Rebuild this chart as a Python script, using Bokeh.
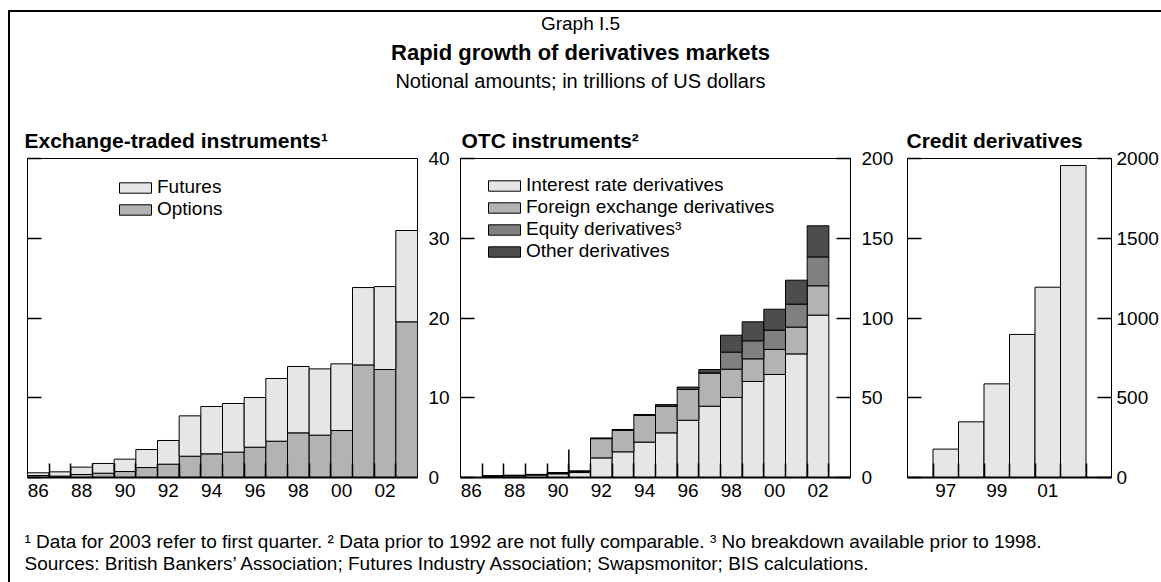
from bokeh.plotting import figure
from bokeh.models import (Range1d, LinearAxis, FixedTicker, Legend, LegendItem,
                          Label, Spacer, ColumnDataSource)
from bokeh.layouts import column, row
from bokeh.embed import file_html
from bokeh.resources import INLINE

FONT = "Liberation Sans"
TICK_FS = "19px"
C_LIGHT = "#e6e6e6"
C_MID = "#b3b3b3"
C_EQ = "#808080"
C_DARK = "#4d4d4d"

# ---------------- data ----------------
header_texts = ["Graph I.5", "Rapid growth of derivatives markets",
                "Notional amounts; in trillions of US dollars"]
footer_texts = ["\u00b9 Data for 2003 refer to first quarter.  \u00b2 Data prior to 1992 are not fully comparable.  "
                "\u00b3 No breakdown available prior to 1998.",
                "Sources: British Bankers\u2019 Association; Futures Industry Association; Swapsmonitor; BIS calculations."]
panel_titles = ["Exchange-traded instruments\u00b9", "OTC instruments\u00b2", "Credit derivatives"]

et_years = list(range(1986, 2004))
et_options = [0.25, 0.17, 0.38, 0.54, 0.75, 1.25, 1.67, 2.67, 2.97, 3.18,
              3.80, 4.55, 5.60, 5.31, 5.89, 14.12, 13.54, 19.52]
et_futures = [0.34, 0.54, 0.92, 1.22, 1.55, 2.26, 2.97, 5.06, 5.93, 6.10,
              6.23, 7.86, 8.32, 8.31, 8.36, 9.70, 10.40, 11.45]
et_label_years = [1986, 1988, 1990, 1992, 1994, 1996, 1998, 2000, 2002]
et_label_text = ["86", "88", "90", "92", "94", "96", "98", "00", "02"]
et_yticks = [0, 10, 20, 30, 40]

otc_years = list(range(1986, 2003))
otc_interest = [0.0, 0.7, 1.0, 1.5, 2.3, 3.1, 12.3, 16.1, 22.2, 28.0,
                35.9, 44.7, 50.2, 60.2, 64.6, 77.5, 101.8]
otc_fx = [0.0, 0.2, 0.3, 0.4, 0.6, 0.8, 12.1, 13.6, 16.7, 16.7,
          19.3, 20.9, 17.7, 14.2, 15.7, 16.8, 18.4]
otc_equity = [0.0, 0.0, 0.0, 0.0, 0.0, 0.0, 0.0, 0.0, 0.0, 0.0,
              0.0, 0.0, 10.7, 11.3, 12.1, 14.4, 18.1]
otc_other = [0.0, 0.0, 0.0, 0.0, 0.0, 0.0, 0.4, 0.4, 0.6, 1.0,
             1.5, 2.1, 10.6, 11.9, 13.1, 15.0, 19.5]
otc_label_years = et_label_years
otc_label_text = et_label_text
otc_yticks = [0, 50, 100, 150, 200]
otc_break_year = [1990.5]
otc_break_top = [17.5]

credit_years = [1997, 1998, 1999, 2000, 2001, 2002]
credit_values = [178, 349, 587, 897, 1193, 1956]
credit_label_years = [1997, 1999, 2001]
credit_label_text = ["97", "99", "01"]
credit_yticks = [0, 500, 1000, 1500, 2000]


# ---------------- helpers ----------------
def text_fig(w, h):
    f = figure(width=w, height=h, x_range=Range1d(0, w), y_range=Range1d(h, 0),
               output_backend="svg", toolbar_location=None, min_border=0,
               x_axis_type=None, y_axis_type=None)
    f.grid.visible = False
    f.outline_line_color = None
    f.background_fill_color = "white"
    f.border_fill_color = "white"
    return f


PANEL_H = 387
FRAME_TOP = 40


def panel(width, mb_left, mb_right, x_lo, x_hi, y_hi, yticks, label_years,
          label_text, title, title_offset, y_standoff, right_tick_in):
    p = figure(width=width, height=PANEL_H, x_range=Range1d(x_lo, x_hi),
               y_range=Range1d(0, y_hi), output_backend="svg",
               toolbar_location=None, y_axis_location="right",
               min_border_left=mb_left, min_border_right=mb_right,
               min_border_top=FRAME_TOP, min_border_bottom=28)
    p.grid.visible = False
    p.outline_line_color = "black"
    p.outline_line_width = 1
    p.background_fill_color = "white"
    p.border_fill_color = "white"

    p.title.text = title
    p.title.align = "left"
    p.title.offset = title_offset
    p.title.text_font = FONT
    p.title.text_font_size = "21px"
    p.title.text_font_style = "bold"
    p.title.text_color = "black"
    p.title.standoff = 14

    boundaries = [x + 0.5 for x in range(int(x_lo + 0.5), int(x_hi - 0.5))]

    xa = p.xaxis[0]
    xa.ticker = FixedTicker(ticks=label_years, minor_ticks=boundaries)
    xa.major_label_overrides = {y: t for y, t in zip(label_years, label_text)}
    xa.major_tick_in = 0
    xa.major_tick_out = 0
    xa.minor_tick_in = 14
    xa.minor_tick_out = 0
    xa.minor_tick_line_color = "black"
    xa.minor_tick_line_width = 1.5
    xa.axis_line_color = "black"
    xa.axis_line_width = 2
    xa.major_label_text_font = FONT
    xa.major_label_text_font_size = TICK_FS
    xa.major_label_text_color = "black"
    xa.major_label_standoff = 6

    ya = p.yaxis[0]
    ya.ticker = FixedTicker(ticks=yticks, minor_ticks=[])
    ya.major_tick_in = right_tick_in
    ya.major_tick_out = 0
    ya.major_tick_line_width = 1.5
    ya.minor_tick_in = 0
    ya.minor_tick_out = 0
    ya.axis_line_color = None
    ya.major_label_text_font = FONT
    ya.major_label_text_font_size = TICK_FS
    ya.major_label_text_color = "black"
    ya.major_label_standoff = y_standoff

    la = LinearAxis(ticker=FixedTicker(ticks=yticks, minor_ticks=[]))
    la.major_tick_in = 14
    la.major_tick_out = 0
    la.major_tick_line_width = 1.5
    la.minor_tick_in = 0
    la.minor_tick_out = 0
    la.axis_line_color = None
    la.major_label_text_color = None
    la.major_label_standoff = 0
    p.add_layout(la, "left")
    return p


def make_legend(items, x, y):
    leg = Legend(items=items, location=(x, y), orientation="vertical",
                 glyph_width=40, glyph_height=13, label_height=21,
                 label_standoff=2, spacing=0, padding=0, margin=0,
                 border_line_color=None, background_fill_alpha=0,
                 label_text_font=FONT, label_text_font_size="19px",
                 label_text_color="black")
    return leg


# ---------------- header ----------------
W = 1151
HEADER_H = 106
header = text_fig(W, HEADER_H)
hdr_pos = [(570, 11, "normal", "19px"), (570, 40, "bold", "22px"), (570, 68, "normal", "20px")]
for (x, y, st, fs), t in zip(hdr_pos, header_texts):
    header.add_layout(Label(x=x, y=y, text=t, text_align="center", text_baseline="middle",
                            text_font=FONT, text_font_size=fs, text_font_style=st,
                            text_color="black"))

# ---------------- panel 1: exchange-traded ----------------
p1 = panel(442, 17, 35, 1985.5, 2003.5, 40, et_yticks, et_label_years, et_label_text,
           panel_titles[0], -3, 11, 0)
src1 = ColumnDataSource(dict(year=et_years, options=et_options, futures=et_futures))
r1 = p1.vbar_stack(["options", "futures"], x="year", width=1, source=src1,
                   fill_color=[C_MID, C_LIGHT], line_color="black", line_width=1)
p1.add_layout(make_legend([LegendItem(label="Futures", renderers=[r1[1]]),
                           LegendItem(label="Options", renderers=[r1[0]])], 88, 319 - 20 - 42))

# ---------------- panel 2: OTC ----------------
p2 = panel(444, 8, 45, 1985.5, 2003.5, 200, otc_yticks, otc_label_years, otc_label_text,
           panel_titles[1], 1, 11, 14)
src2 = ColumnDataSource(dict(year=otc_years, ir=otc_interest, fx=otc_fx,
                             eq=otc_equity, oth=otc_other))
r2 = p2.vbar_stack(["ir", "fx", "eq", "oth"], x="year", width=1, source=src2,
                   fill_color=[C_LIGHT, C_MID, C_EQ, C_DARK], line_color="black", line_width=1)
p2.segment(x0=otc_break_year, y0=[0], x1=otc_break_year, y1=otc_break_top,
           line_color="black", line_width=1.5)
p2.add_layout(make_legend([LegendItem(label="Interest rate derivatives", renderers=[r2[0]]),
                           LegendItem(label="Foreign exchange derivatives", renderers=[r2[1]]),
                           LegendItem(label="Equity derivatives\u00b3", renderers=[r2[2]]),
                           LegendItem(label="Other derivatives", renderers=[r2[3]])],
                          24, 319 - 20 - 84))

# ---------------- panel 3: credit ----------------
p3 = panel(265, 11, 48, 1995.5, 2003.5, 2000, credit_yticks, credit_label_years,
           credit_label_text, panel_titles[2], -1, 5, 14)
src3 = ColumnDataSource(dict(year=credit_years, val=credit_values))
p3.vbar(x="year", top="val", width=1, source=src3, fill_color=C_LIGHT,
        line_color="black", line_width=1)

# ---------------- footer ----------------
FOOTER_H = 77
footer = text_fig(W, FOOTER_H)
for y, t in zip([36, 58], footer_texts):
    footer.add_layout(Label(x=14, y=y, text=t, text_align="left", text_baseline="middle",
                            text_font=FONT, text_font_size="19px", text_color="black"))

# ---------------- layout with outer frame (page has no body margin) ----------------
CONTENT_H = HEADER_H + PANEL_H + FOOTER_H
top_gap = Spacer(width=1161, height=10)
top_line = Spacer(width=W + 2, height=2, styles={"background-color": "black"})
left_line = Spacer(width=2, height=CONTENT_H, styles={"background-color": "black"})
content = column(header, row(p1, p2, p3), footer)
layout = column(top_gap, row(Spacer(width=8, height=2), top_line),
                row(Spacer(width=8, height=CONTENT_H), left_line, content))

open("out.html", "w").write(file_html(layout, INLINE))
